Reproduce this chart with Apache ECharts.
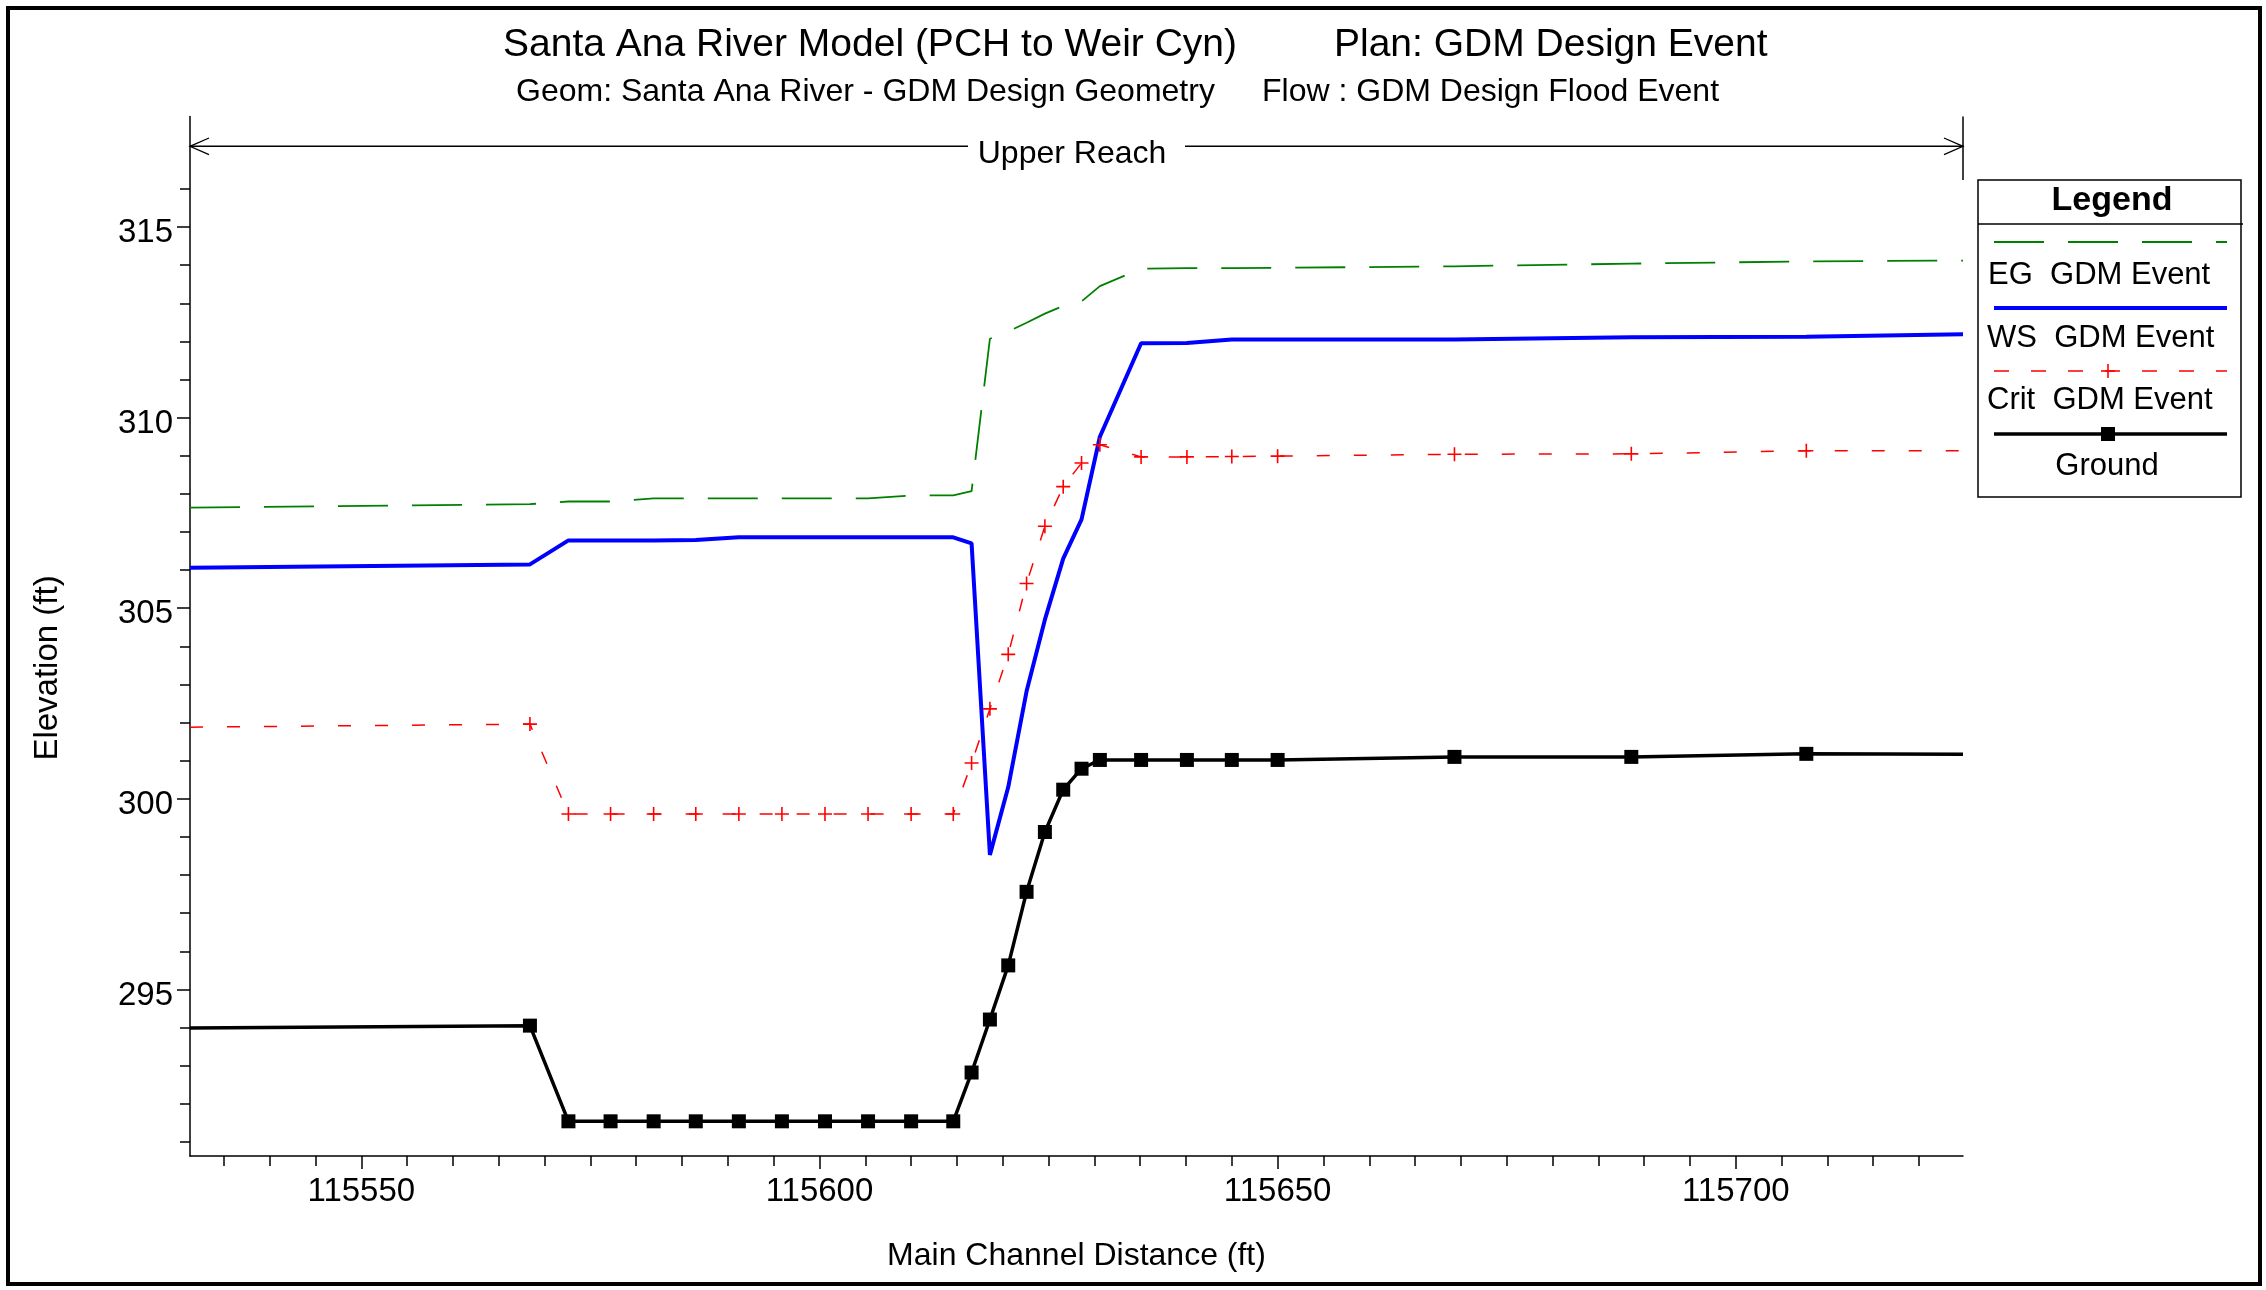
<!DOCTYPE html>
<html>
<head>
<meta charset="utf-8">
<style>
html,body{margin:0;padding:0;background:#fff;}
#chart{width:2266px;height:1290px;}
</style>
<script src="https://cdn.jsdelivr.net/npm/echarts@6/dist/echarts.min.js"></script>
</head>
<body>
<div id="chart"></div>
<script>
// ---- data ----
const stations = [115531.3, 115568.4, 115572.6, 115577.2, 115581.9, 115586.5, 115591.2, 115595.9, 115600.6, 115605.3, 115610.0, 115614.6, 115616.6, 115618.6, 115620.6, 115622.6, 115624.6, 115626.6, 115628.6, 115630.6, 115635.1, 115640.1, 115645.0, 115650.0, 115669.3, 115688.6, 115707.7, 115724.8];
const egValues = [307.64, 307.73, 307.80, 307.80, 307.88, 307.88, 307.88, 307.88, 307.88, 307.88, 307.96, 307.96, 308.07, 312.07, 312.26, 312.49, 312.73, 312.93, 313.05, 313.45, 313.91, 313.92, 313.92, 313.93, 313.97, 314.04, 314.10, 314.12];
const wsValues = [306.06, 306.15, 306.78, 306.78, 306.78, 306.79, 306.86, 306.86, 306.86, 306.86, 306.86, 306.86, 306.70, 298.53, 300.31, 302.82, 304.70, 306.30, 307.33, 309.50, 311.95, 311.96, 312.05, 312.05, 312.05, 312.11, 312.12, 312.19];
const critValues = [301.88, 301.96, 299.60, 299.60, 299.60, 299.60, 299.60, 299.60, 299.60, 299.60, 299.60, 299.60, 300.94, 302.36, 303.79, 305.65, 307.15, 308.19, 308.81, 309.29, 308.97, 308.97, 308.98, 308.99, 309.04, 309.05, 309.13, 309.13];
const groundValues = [293.99, 294.05, 291.54, 291.54, 291.54, 291.54, 291.54, 291.54, 291.54, 291.54, 291.54, 291.54, 292.82, 294.21, 295.63, 297.56, 299.13, 300.24, 300.79, 301.02, 301.02, 301.02, 301.02, 301.02, 301.10, 301.10, 301.18, 301.17];

const xTickLabels = [115550, 115600, 115650, 115700];
const xMinorTicks = [115535,115540,115545,115550,115555,115560,115565,115570,115575,115580,115585,115590,115595,115600,115605,115610,115615,115620,115625,115630,115635,115640,115645,115650,115655,115660,115665,115670,115675,115680,115685,115690,115695,115700,115705,115710,115715,115720];
const yTickLabels = [295, 300, 305, 310, 315];
const yMinorTicks = [291,292,293,294,295,296,297,298,299,300,301,302,303,304,305,306,307,308,309,310,311,312,313,314,315,316];

const X_MIN = 115531.3, X_MAX = 115724.8;
const Y_MIN = 290.63, Y_MAX = 317.9;
// the y tick labels sit slightly below their ticks in the reference
const Y_LABEL_SHIFT = 0.16;

const FONT = 'Liberation Sans, Arial, sans-serif';

function toData(vals) {
  const last = stations.length - 1;
  return stations.map((x, i) => (i === 0 || i === last) ? {value: [x, vals[i]], symbol: 'none'} : [x, vals[i]]);
}

const chart = echarts.init(document.getElementById('chart'), null, {renderer: 'canvas'});

const axisLineStyle = {color: '#000', width: 1.5};
const plusPath = 'path://M5,0L5,10M0,5L10,5';

const option = {
  backgroundColor: '#fff',
  animation: false,
  title: [
    {text: 'Santa Ana River Model (PCH to Weir Cyn)', left: 503, top: 26, padding: 0,
     textStyle: {fontSize: 39, fontWeight: 'normal', fontFamily: FONT, color: '#000'}},
    {text: 'Plan: GDM Design Event', left: 1334, top: 26, padding: 0,
     textStyle: {fontSize: 39, fontWeight: 'normal', fontFamily: FONT, color: '#000'}},
    {text: 'Geom: Santa Ana River - GDM Design Geometry', left: 516, top: 76, padding: 0,
     textStyle: {fontSize: 32, fontWeight: 'normal', fontFamily: FONT, color: '#000'}},
    {text: 'Flow : GDM Design Flood Event', left: 1262, top: 76, padding: 0,
     textStyle: {fontSize: 32, fontWeight: 'normal', fontFamily: FONT, color: '#000'}}
  ],
  grid: {left: 190, right: 303, top: 116.5, bottom: 134, containLabel: false},
  xAxis: [
    {type: 'value', min: X_MIN, max: X_MAX, position: 'bottom',
     axisLine: {show: true, lineStyle: axisLineStyle},
     axisTick: {show: true, customValues: xMinorTicks, length: 10, lineStyle: axisLineStyle},
     axisLabel: {show: false}, splitLine: {show: false}},
    {type: 'value', min: X_MIN, max: X_MAX, position: 'bottom',
     axisLine: {show: false},
     axisTick: {show: true, customValues: xTickLabels, length: 13, lineStyle: axisLineStyle},
     axisLabel: {show: true, customValues: xTickLabels, fontSize: 33, margin: 19, color: '#000', fontFamily: FONT,
                 formatter: v => String(v)},
     splitLine: {show: false},
     name: 'Main Channel Distance (ft)', nameLocation: 'middle', nameGap: 84,
     nameTextStyle: {fontSize: 32, color: '#000', fontFamily: FONT}}
  ],
  yAxis: [
    {type: 'value', min: Y_MIN, max: Y_MAX, position: 'left',
     axisLine: {show: true, lineStyle: axisLineStyle},
     axisTick: {show: true, customValues: yMinorTicks, length: 10, lineStyle: axisLineStyle},
     axisLabel: {show: false}, splitLine: {show: false}},
    {type: 'value', min: Y_MIN, max: Y_MAX, position: 'left',
     axisLine: {show: false},
     axisTick: {show: true, customValues: yTickLabels, length: 13, lineStyle: axisLineStyle},
     axisLabel: {show: true, customValues: yTickLabels.map(v => v - Y_LABEL_SHIFT), fontSize: 33, margin: 17,
                 color: '#000', fontFamily: FONT, formatter: v => String(Math.round(v))},
     splitLine: {show: false}}
  ],
  series: [
    {name: 'EG  GDM Event', type: 'line', xAxisIndex: 0, yAxisIndex: 0, data: toData(egValues),
     symbol: 'none', lineStyle: {color: '#008000', width: 1.8, type: [50, 24]}, z: 2},
    {name: 'WS  GDM Event', type: 'line', xAxisIndex: 0, yAxisIndex: 0, data: toData(wsValues),
     symbol: 'none', lineStyle: {color: '#0000FF', width: 4}, z: 3},
    {name: 'Crit  GDM Event', type: 'line', xAxisIndex: 0, yAxisIndex: 0, data: toData(critValues),
     symbol: plusPath, symbolSize: 14, showAllSymbol: true,
     itemStyle: {color: '#FF0000', borderColor: '#FF0000', borderWidth: 1.6},
     lineStyle: {color: '#FF0000', width: 1.5, type: [13, 24]}, z: 4},
    {name: 'Ground', type: 'line', xAxisIndex: 0, yAxisIndex: 0, data: toData(groundValues),
     symbol: 'rect', symbolSize: 14, showAllSymbol: true,
     itemStyle: {color: '#000'}, lineStyle: {color: '#000', width: 3.5}, z: 5}
  ],
  graphic: [
    // outer frame
    {type: 'rect', shape: {x: 8, y: 8, width: 2252, height: 1276}, style: {fill: 'none', stroke: '#000', lineWidth: 4}, silent: true},
    // y axis name
    {type: 'text', x: 48, y: 668, rotation: Math.PI / 2,
     style: {text: 'Elevation (ft)', fontSize: 33, fontFamily: FONT, fill: '#000', align: 'center', verticalAlign: 'middle'}},
    // reach annotation
    {type: 'line', shape: {x1: 190, y1: 146.3, x2: 968, y2: 146.3}, style: {stroke: '#000', lineWidth: 1.5}},
    {type: 'line', shape: {x1: 1185, y1: 146.3, x2: 1963, y2: 146.3}, style: {stroke: '#000', lineWidth: 1.5}},
    {type: 'polyline', shape: {points: [[209, 138], [190, 146.3], [209, 154.6]]}, style: {stroke: '#000', fill: 'none', lineWidth: 1.3}},
    {type: 'polyline', shape: {points: [[1944, 138], [1963, 146.3], [1944, 154.6]]}, style: {stroke: '#000', fill: 'none', lineWidth: 1.3}},
    {type: 'line', shape: {x1: 1963, y1: 116.5, x2: 1963, y2: 180}, style: {stroke: '#000', lineWidth: 1.5}},
    {type: 'text', x: 1072, y: 154, style: {text: 'Upper Reach', fontSize: 32, fontFamily: FONT, fill: '#000', align: 'center', verticalAlign: 'middle'}},
    // legend box
    {type: 'rect', shape: {x: 1978, y: 180, width: 263, height: 317}, style: {fill: '#fff', stroke: '#000', lineWidth: 1.5}},
    {type: 'line', shape: {x1: 1978, y1: 224, x2: 2243, y2: 224}, style: {stroke: '#000', lineWidth: 1.5}},
    {type: 'text', x: 2112, y: 201, style: {text: 'Legend', fontSize: 34, fontWeight: 'bold', fontFamily: FONT, fill: '#000', align: 'center', verticalAlign: 'middle'}},
    {type: 'line', shape: {x1: 1994, y1: 242, x2: 2227, y2: 242}, style: {stroke: '#008000', lineWidth: 1.8, lineDash: [50, 24]}},
    {type: 'text', x: 1988, y: 275, style: {text: 'EG  GDM Event', fontSize: 31, fontFamily: FONT, fill: '#000', align: 'left', verticalAlign: 'middle'}},
    {type: 'line', shape: {x1: 1994, y1: 308, x2: 2227, y2: 308}, style: {stroke: '#0000FF', lineWidth: 4}},
    {type: 'text', x: 1987, y: 338, style: {text: 'WS  GDM Event', fontSize: 31, fontFamily: FONT, fill: '#000', align: 'left', verticalAlign: 'middle'}},
    {type: 'line', shape: {x1: 1994, y1: 371, x2: 2227, y2: 371}, style: {stroke: '#FF0000', lineWidth: 1.5, lineDash: [15, 22]}},
    {type: 'line', shape: {x1: 2108, y1: 364, x2: 2108, y2: 378}, style: {stroke: '#FF0000', lineWidth: 1.6}},
    {type: 'line', shape: {x1: 2101, y1: 371, x2: 2115, y2: 371}, style: {stroke: '#FF0000', lineWidth: 1.6}},
    {type: 'text', x: 1987, y: 400, style: {text: 'Crit  GDM Event', fontSize: 31, fontFamily: FONT, fill: '#000', align: 'left', verticalAlign: 'middle'}},
    {type: 'line', shape: {x1: 1994, y1: 434, x2: 2227, y2: 434}, style: {stroke: '#000', lineWidth: 3.5}},
    {type: 'rect', shape: {x: 2101, y: 427, width: 14, height: 14}, style: {fill: '#000'}},
    {type: 'text', x: 2107, y: 466, style: {text: 'Ground', fontSize: 31, fontFamily: FONT, fill: '#000', align: 'center', verticalAlign: 'middle'}}
  ]
};

chart.setOption(option);
</script>
</body>
</html>
